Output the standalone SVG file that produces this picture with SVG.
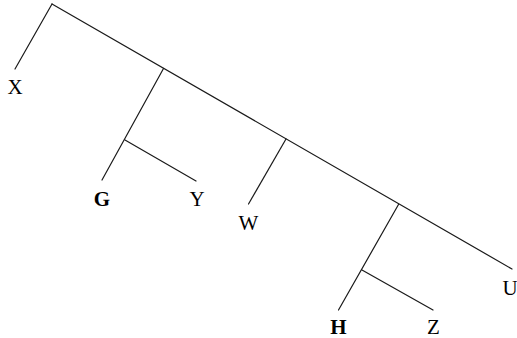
<svg xmlns="http://www.w3.org/2000/svg" width="517" height="338" viewBox="0 0 517 338">
<style>
.e{stroke:#1a1a1a;stroke-width:1.2;fill:none;stroke-linecap:round}
.t{font-family:"Liberation Serif",serif;font-size:21px;fill:#000;text-anchor:middle}
.b{font-weight:bold}
</style>
<rect width="517" height="338" fill="#fff"/>
<g id="edges">
<path class="e" d="M52,4 L15,69"/>
<path class="e" d="M52,4 L512,269"/>
<path class="e" d="M163.5,68.5 L102,180"/>
<path class="e" d="M125,140 L196,181"/>
<path class="e" d="M286,139 L248.5,204"/>
<path class="e" d="M398.5,204.5 L338.5,310"/>
<path class="e" d="M362,270 L433,310"/>
</g>
<g id="X"><text class="t" x="15" y="94">X</text></g>
<g id="G"><text class="t b" x="102" y="206">G</text></g>
<g id="Y"><text class="t" x="197" y="206">Y</text></g>
<g id="W"><text class="t" x="248.5" y="230">W</text></g>
<g id="H"><text class="t b" x="338.5" y="334">H</text></g>
<g id="Z"><text class="t" x="433.5" y="334">Z</text></g>
<g id="U"><text class="t" x="510" y="295">U</text></g>
</svg>
